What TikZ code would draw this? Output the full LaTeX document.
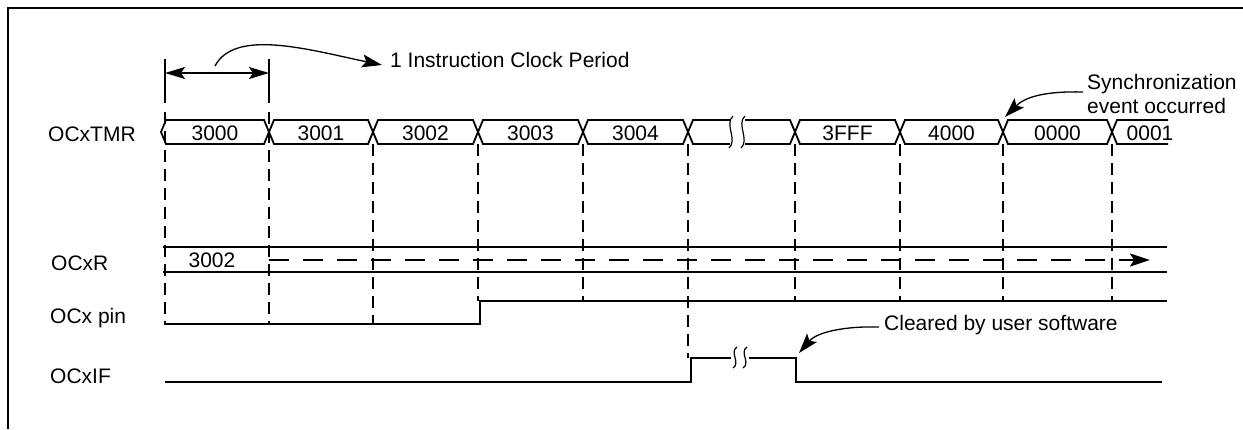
\documentclass[tikz,border=0pt]{standalone}
\usepackage{fontspec}
\setmainfont{Liberation Sans}
\usetikzlibrary{arrows.meta}
\begin{document}
\begin{tikzpicture}[x=1pt,y=-1pt,
  sig/.style={line width=1.8pt, line join=miter},
  gridline/.style={line width=2pt, dash pattern=on 12pt off 7pt},
  lbl/.style={font=\fontsize{21}{25}\selectfont, anchor=base west, inner sep=0pt},
  val/.style={font=\fontsize{21}{25}\selectfont, anchor=base, inner sep=0pt},
  bigtip/.style={-{Stealth[length=20pt,width=13pt,inset=4pt]}},
  thin curve/.style={line width=1.3pt},
  brk/.style={line width=1.2pt}
]
\useasboundingbox (0,0) rectangle (1243,429);
% frame
\draw[line width=2.5pt] (8,429) -- (8,8) -- (1243,8);

% row labels
\node[lbl] (lTMR) at (48,141) {OCxTMR};
\node[lbl] (lR)   at (51,270) {OCxR};
\node[lbl] (lpin) at (50,323) {OCx pin};
\node[lbl] (lIF)  at (50,383) {OCxIF};

% dashed vertical grid lines
\foreach \x/\ya/\yb in {165/112/324, 269/112/324, 373/144/324, 478/144/301, 583/144/301,
                        688/144/358, 795/144/301, 900/144/301, 1003/144/301, 1112/144/301}
  \draw[gridline] (\x,\ya) -- (\x,\yb);

% period markers and double arrow
\coordinate (mA) at (165,73);
\coordinate (mB) at (269,73);
\draw[sig] (165,59) -- (165,103);
\draw[sig] (269,59) -- (269,103);
\draw[sig, {Stealth[length=20pt,width=12pt,inset=4pt]}-{Stealth[length=20pt,width=12pt,inset=4pt]}] (mA) -- (mB);

% OCxTMR bus
\draw[sig] (161,132) -- (166,120) -- (264,120) -- (269,132) -- (264,144) -- (166,144) -- cycle;
\node[val] (v3000) at (215,140) {3000};
\foreach \a/\b/\t in {269/373/3001, 373/478/3002, 478/583/3003, 583/688/3004,
                      795/900/3FFF, 900/1003/4000, 1003/1112/0000} {
  \draw[sig] (\a,132) -- (\a+5,120) -- (\b-5,120) -- (\b,132) -- (\b-5,144) -- (\a+5,144) -- cycle;
  \node[val] at ({(\a+\b)/2},140) {\t};
}
% break segment
\draw[sig] (730,120) -- (693,120) -- (688,132) -- (693,144) -- (730,144);
\draw[sig] (745,120) -- (790,120) -- (795,132) -- (790,144) -- (745,144);
\draw[brk] (733,116) .. controls (724,124) and (738,140) .. (729,148);
\draw[brk] (745,116) .. controls (736,124) and (750,140) .. (741,148);
% last segment
\draw[sig] (1168,120) -- (1117,120) -- (1112,132) -- (1117,144) -- (1168,144);
\node[val] (v0001) at (1150,140) {0001};

% OCxR
\draw[sig] (163,247) -- (1167,247);
\draw[sig] (163,272) -- (1167,272);
\node[val] (v3002r) at (212,267) {3002};
\coordinate (rS) at (269,260);
\coordinate (rE) at (1150,260);
\draw[line width=2pt, dash pattern=on 20pt off 14pt, bigtip] (rS) -- (rE);

% OCx pin
\draw[sig] (164,324) -- (480,324) -- (480,301) -- (1167,301);

% OCxIF
\draw[sig] (165,382) -- (691,382) -- (691,358) -- (731,358);
\draw[sig] (749,358) -- (796,358) -- (796,382) -- (1162,382);
\draw[brk] (737,347) .. controls (729,352) and (741,363) .. (733,368);
\draw[brk] (747,347) .. controls (739,352) and (751,363) .. (743,368);

% annotations
\node[lbl] (icp) at (390,67) {1 Instruction Clock Period};
\coordinate (icpS) at (215,66);
\coordinate (icpT) at (382,65);
\draw[thin curve, bigtip] (icpS) .. controls (235,28) and (310,50) .. (icpT);

\node[lbl] (sync1) at (1087,89) {Synchronization};
\node[lbl] (sync2) at (1087,113) {event occurred};
\coordinate (syS) at (1083,92);
\coordinate (syT) at (1005,117);
\draw[thin curve, bigtip] (syS) .. controls (1045,91) and (1025,97) .. (syT);

\node[lbl] (clr) at (884,330) {Cleared by user software};
\coordinate (clS) at (879,327);
\coordinate (clT) at (799,353);
\draw[thin curve, bigtip] (clS) .. controls (845,326) and (817,332) .. (clT);
\end{tikzpicture}
\end{document}
